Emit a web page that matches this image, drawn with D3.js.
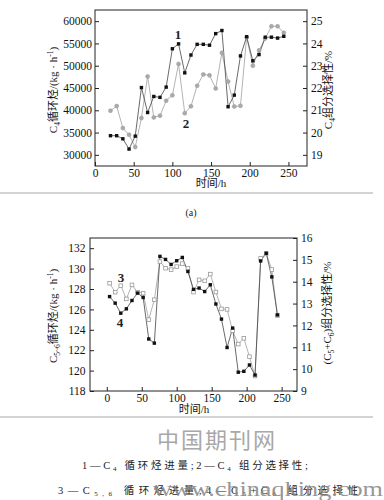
<!DOCTYPE html>
<html>
<head>
<meta charset="utf-8">
<script src="https://cdn.jsdelivr.net/npm/d3@7"></script>
<style>
  html, body { margin: 0; padding: 0; background: #fff; }
  svg { display: block; }
  text { font-family: 'Liberation Serif', 'Noto Sans CJK SC', serif; }
</style>
</head>
<body>
<div id="chart"></div>
<script>
// panel (a): C4
const hoursA = [20, 28, 36, 44, 52, 60, 68, 76, 84, 92, 100, 108, 116, 124, 132, 140, 148, 156, 164, 172, 180, 188, 196, 204, 212, 220, 228, 236, 244]
const c4Feed = [34300, 34300, 33600, 31300, 34200, 45100, 39500, 43100, 42900, 45200, 53800, 54900, 48400, 52400, 54800, 54800, 54600, 57200, 57900, 40800, 43400, 52200, 56500, 51100, 52500, 56400, 56400, 56200, 56600]
const c4Sel = [20.98, 21.19, 20.2, 19.9, 19.35, 20.65, 22.52, 20.68, 20.76, 21.43, 21.67, 23.08, 20.87, 21.18, 22.1, 22.61, 22.57, 21.98, 23.58, 22.29, 21.17, 21.2, 24.28, 23.0, 23.69, 24.22, 24.77, 24.77, 24.48]

// panel (b): C5,6
const hoursB = [4, 12, 20, 28, 36, 44, 52, 60, 68, 76, 84, 92, 100, 108, 116, 124, 132, 140, 148, 156, 164, 172, 180, 188, 196, 204, 212, 220, 228, 236, 244]
const c56Feed = [128.57, 127.69, 128.33, 127.03, 128.4, 127.69, 127.59, 125.0, 126.95, 130.69, 130.04, 129.9, 130.2, 130.49, 130.04, 127.7, 128.9, 128.8, 129.46, 127.7, 126.05, 126.0, 123.9, 122.6, 123.17, 121.37, 119.47, 131.0, 131.48, 129.91, 125.4]
const c56Sel = [13.32, 13.02, 12.56, 12.76, 13.14, 13.48, 13.28, 11.38, 11.19, 15.16, 15.02, 14.79, 14.96, 15.11, 14.47, 13.65, 13.71, 13.55, 13.86, 12.98, 12.29, 10.99, 11.88, 9.86, 9.9, 10.19, 9.73, 14.95, 15.3, 14.22, 12.48]

const xTicks = [0, 50, 100, 150, 200, 250]
const c4FeedTicks = [30000, 35000, 40000, 45000, 50000, 55000, 60000]
const c4SelTicks = [19, 20, 21, 22, 23, 24, 25]
const c56FeedTicks = [118, 120, 122, 124, 126, 128, 130, 132]
const c56SelTicks = [9, 10, 11, 12, 13, 14, 15, 16]

const svg = d3.select('#chart').append('svg')
  .attr('width', 384)
  .attr('height', 500)

const fmt = d3.format('d')

function styleAxis (g) {
  g.select('.domain').remove()
  g.attr('font-family', null).attr('font-size', null)
  g.selectAll('line').attr('stroke', '#222')
  g.selectAll('text').attr('font-size', '11.5px').attr('fill', '#111')
}

function panel (opt) {
  const f = opt.frame
  const x = d3.scaleLinear().domain(opt.xDomain).range([f.left, f.right])
  const yL = d3.scaleLinear().domain(opt.leftDomain).range([f.bottom, f.top])
  const yR = d3.scaleLinear().domain(opt.rightDomain).range([f.bottom, f.top])
  const g = svg.append('g')

  g.append('g')
    .attr('transform', `translate(0,${f.bottom})`)
    .call(d3.axisBottom(x).tickValues(xTicks).tickFormat(fmt).tickSize(-4).tickPadding(3))
    .call(styleAxis)
  g.append('g')
    .attr('transform', `translate(${f.left},0)`)
    .call(d3.axisLeft(yL).tickValues(opt.leftTicks).tickFormat(fmt).tickSize(-4).tickPadding(opt.padL))
    .call(styleAxis)
  g.append('g')
    .attr('transform', `translate(${f.right},0)`)
    .call(d3.axisRight(yR).tickValues(opt.rightTicks).tickFormat(fmt).tickSize(-4).tickPadding(4))
    .call(styleAxis)

  g.append('rect')
    .attr('x', f.left)
    .attr('y', f.top)
    .attr('width', f.right - f.left)
    .attr('height', f.bottom - f.top)
    .attr('fill', 'none')
    .attr('stroke', '#222')
    .attr('stroke-width', 1)

  const gray = opt.hours.map((h, i) => [h, opt.gray[i]])
  const black = opt.hours.map((h, i) => [h, opt.black[i]])
  const yGray = opt.grayOnRight ? yR : yL
  const yBlack = opt.grayOnRight ? yL : yR

  g.append('path')
    .datum(gray)
    .attr('d', d3.line().x(d => x(d[0])).y(d => yGray(d[1])))
    .attr('fill', 'none')
    .attr('stroke', '#aaa')
    .attr('stroke-width', 0.9)
  g.append('path')
    .datum(black)
    .attr('d', d3.line().x(d => x(d[0])).y(d => yBlack(d[1])))
    .attr('fill', 'none')
    .attr('stroke', '#444')
    .attr('stroke-width', 0.8)

  if (opt.grayMarker === 'circle') {
    g.append('g').selectAll('circle')
      .data(gray)
      .enter()
      .append('circle')
      .attr('cx', d => x(d[0]))
      .attr('cy', d => yGray(d[1]))
      .attr('r', 2)
      .attr('fill', '#aaa')
      .attr('stroke', '#999')
      .attr('stroke-width', 0.5)
  } else {
    g.append('g').selectAll('rect')
      .data(gray)
      .enter()
      .append('rect')
      .attr('x', d => x(d[0]) - 1.8)
      .attr('y', d => yGray(d[1]) - 1.8)
      .attr('width', 3.6)
      .attr('height', 3.6)
      .attr('fill', '#fff')
      .attr('stroke', '#999')
      .attr('stroke-width', 0.8)
  }
  g.append('g').selectAll('rect')
    .data(black)
    .enter()
    .append('rect')
    .attr('x', d => x(d[0]) - 1.7)
    .attr('y', d => yBlack(d[1]) - 1.7)
    .attr('width', 3.4)
    .attr('height', 3.4)
    .attr('fill', '#111')

  opt.labels.forEach(l => {
    g.append('text')
      .attr('x', l.x)
      .attr('y', l.y)
      .attr('text-anchor', 'middle')
      .attr('font-size', '13px')
      .attr('font-weight', 'bold')
      .attr('fill', '#222')
      .text(l.t)
  })

  g.append('text')
    .attr('x', opt.xTitle[0])
    .attr('y', opt.xTitle[1])
    .attr('text-anchor', 'middle')
    .attr('font-size', '11px')
    .attr('fill', '#111')
    .text('时间/h')
  return g
}

// rotated title made of pieces: [text, 'sub'|'sup'|null]
function vTitle (cx, cy, parts) {
  const t = svg.append('text')
    .attr('transform', `translate(${cx},${cy}) rotate(-90)`)
    .attr('text-anchor', 'middle')
    .attr('font-size', '11px')
    .attr('fill', '#111')
  let shift = 0
  parts.forEach(p => {
    const want = p[1] === 'sub' ? 2.5 : p[1] === 'sup' ? -4 : 0
    const s = t.append('tspan').attr('dy', want - shift).text(p[0])
    if (p[1]) s.attr('font-size', '7.5px')
    shift = want
  })
}

panel({
  frame: { left: 95, right: 307, top: 10, bottom: 166 },
  xDomain: [0, 274],
  leftDomain: [27500, 62500],
  rightDomain: [18.5, 25.5],
  leftTicks: c4FeedTicks,
  rightTicks: c4SelTicks,
  padL: 3,
  hours: hoursA,
  black: c4Feed,
  gray: c4Sel,
  grayOnRight: true,
  grayMarker: 'circle',
  labels: [{ t: '1', x: 178, y: 39 }, { t: '2', x: 186, y: 128 }],
  xTitle: [211, 187]
})

panel({
  frame: { left: 90, right: 297, top: 238, bottom: 391 },
  xDomain: [-24, 272],
  leftDomain: [118, 133],
  rightDomain: [9, 16],
  leftTicks: c56FeedTicks,
  rightTicks: c56SelTicks,
  padL: 4.5,
  hours: hoursB,
  black: c56Sel,
  gray: c56Feed,
  grayOnRight: false,
  grayMarker: 'square',
  labels: [{ t: '3', x: 121, y: 282 }, { t: '4', x: 120, y: 327 }],
  xTitle: [194, 413]
})

vTitle(57, 90, [['C'], ['4', 'sub'], ['循环烃/(kg · h'], ['-1', 'sup'], [')']])
vTitle(332, 90, [['C'], ['4', 'sub'], ['组分选择性/%']])
vTitle(57, 316, [['C'], ['5~6', 'sub'], ['循环烃/(kg · h'], ['-1', 'sup'], [')']])
vTitle(331, 313, [['(C'], ['5', 'sub'], ['+C'], ['6', 'sub'], [')组分选择性/%']])

svg.append('text')
  .attr('x', 191)
  .attr('y', 216)
  .attr('text-anchor', 'middle')
  .attr('font-size', '10px')
  .attr('fill', '#222')
  .text('(a)')

// separators
;[193, 417].forEach(y => {
  svg.append('line')
    .attr('x1', 0).attr('x2', 373)
    .attr('y1', y).attr('y2', y)
    .attr('stroke', '#d4d4d4')
    .attr('stroke-width', 2)
})

// caption
svg.append('text')
  .attr('x', 217)
  .attr('y', 448)
  .attr('text-anchor', 'middle')
  .attr('font-size', '22px')
  .attr('fill', '#a8a8a8')
  .attr('letter-spacing', 2)
  .text('中国期刊网')

const cap1 = svg.append('text')
  .attr('x', 82)
  .attr('y', 469)
  .attr('font-size', '10.5px')
  .attr('fill', '#222')
  .attr('textLength', 226)
  .attr('lengthAdjust', 'spacing')
cap1.append('tspan').text('1—C')
cap1.append('tspan').attr('font-size', '7px').attr('dy', 2).text('4')
cap1.append('tspan').attr('dy', -2).text(' 循环烃进量;2—C')
cap1.append('tspan').attr('font-size', '7px').attr('dy', 2).text('4')
cap1.append('tspan').attr('dy', -2).text(' 组分选择性;')

const cap2 = svg.append('text')
  .attr('x', 58)
  .attr('y', 494)
  .attr('font-size', '10.5px')
  .attr('fill', '#222')
  .attr('textLength', 300)
  .attr('lengthAdjust', 'spacing')
cap2.append('tspan').text('3—C')
cap2.append('tspan').attr('font-size', '7px').attr('dy', 2).text('5,6')
cap2.append('tspan').attr('dy', -2).text(' 循环烃进量;4—C')
cap2.append('tspan').attr('font-size', '7px').attr('dy', 2).text('5')
cap2.append('tspan').attr('dy', -2).text('+C')
cap2.append('tspan').attr('font-size', '7px').attr('dy', 2).text('6')
cap2.append('tspan').attr('dy', -2).text(' 组分选择性')

svg.append('text')
  .attr('x', 153)
  .attr('y', 496)
  .attr('font-family', "'DejaVu Sans', sans-serif")
  .attr('font-size', '21px')
  .attr('fill', '#8a8a8a')
  .attr('fill-opacity', 0.9)
  .attr('textLength', 230)
  .attr('lengthAdjust', 'spacingAndGlyphs')
  .text('www.chinaqking.com')
</script>
</body>
</html>
